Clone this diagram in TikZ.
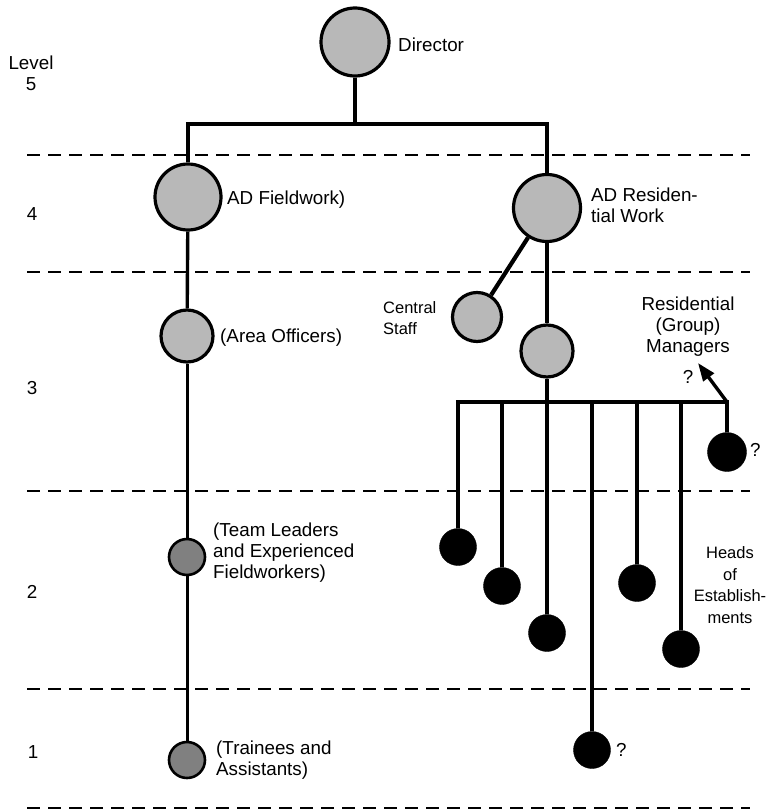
\documentclass[tikz,border=0pt]{standalone}
\usepackage{fontspec}
\setmainfont{Liberation Sans}
\usetikzlibrary{arrows.meta}
\begin{document}
\begin{tikzpicture}[x=1pt,y=-1pt,
  lbl/.style={font=\fontsize{18.8}{21}\selectfont, inner sep=0pt, align=left},
  lvl/.style={font=\fontsize{18.8}{21}\selectfont, inner sep=0pt, align=center},
  small/.style={font=\fontsize{16.5}{21.5}\selectfont},
  graynode/.style={circle, draw=black, line width=3.2pt, fill=black!28, inner sep=0pt},
  darknode/.style={circle, draw=black, line width=2.6pt, fill=black!50, inner sep=0pt},
  blacknode/.style={circle, fill=black, draw=black, inner sep=0pt, minimum size=37pt},
  trunk/.style={line width=4.2pt},
  twig/.style={line width=3pt},
  levelline/.style={line width=2.2pt, dash pattern=on 13pt off 8pt}]
\useasboundingbox (0,0) rectangle (768,811);

% level separators
\foreach \yy in {155,272,491,689,808}
  \draw[levelline] (27,\yy) -- (750,\yy);

% level numbers
\node[lvl] (lv5) at (31,73) {Level\\5};
\node[lvl] (lv4) at (32,214) {4};
\node[lvl] (lv3) at (32,388) {3};
\node[lvl] (lv2) at (32,592) {2};
\node[lvl] (lv1) at (33,752) {1};

% top of the hierarchy
\node[graynode, minimum size=68pt] (dir) at (355,42) {};
\node[lbl, anchor=west] (dirL) at (398,45) {Director};

\coordinate (barL) at (188,124);
\coordinate (barM) at (355,124);
\coordinate (barR) at (547,124);

\node[graynode, minimum size=66pt] (adf) at (188,197) {};
\node[lbl, anchor=west] (adfL) at (227,200) {AD Fieldwork)};
\node[graynode, minimum size=67pt] (adr) at (547,208) {};
\node[lbl, anchor=west] (adrL) at (591,205) {AD Residen-\\tial Work};

\draw[trunk] (dir) -- (barM);
\draw[trunk] ([xshift=-2.1pt]barL) -- ([xshift=2.1pt]barR);
\draw[trunk] (barL) -- (adf);
\draw[trunk] (barR) -- (adr);

% fieldwork branch
\node[graynode, minimum size=52pt] (ao) at (187,336) {};
\node[lbl, anchor=west] (aoL) at (220,338) {(Area Officers)};
\node[darknode, minimum size=36pt] (tl) at (187,557) {};
\node[lbl, anchor=west] (tlL) at (213,553) {(Team Leaders\\and Experienced\\Fieldworkers)};
\node[darknode, minimum size=36pt] (tr) at (187,760) {};
\node[lbl, anchor=west] (trL) at (216,760) {(Trainees and\\Assistants)};

\draw[twig, line width=3.4pt] (adf) -- (ao);
\draw[twig] (ao) -- (tl);
\draw[twig] (tl) -- (tr);

% residential branch
\node[graynode, minimum size=49pt] (cs) at (477,317) {};
\node[lbl, small, anchor=west] (csL) at (383,318) {Central\\Staff};
\node[graynode, minimum size=52pt] (rm) at (547,351) {};
\node[lvl] (rmL) at (688,327) {Residential\\(Group)\\Managers};
\node[lvl] (rmQ) at (688,377) {?};

\draw[trunk] (adr) -- (cs);
\draw[trunk] (adr) -- (rm);

\coordinate (rbL) at (458,402);
\coordinate (rbR) at (727,402);
\coordinate (tip) at (698,363);
\draw[trunk] ([xshift=-2.1pt]rbL) -- ([xshift=2.1pt]rbR);

% heads of establishments
\node[blacknode] (h1) at (458,547) {};
\node[blacknode] (h2) at (502,586) {};
\node[blacknode] (h3) at (547,633) {};
\node[blacknode] (h4) at (637,583) {};
\node[blacknode] (h5) at (681,649) {};
\node[blacknode] (q1) at (592,750) {};
\node[lbl, anchor=west] (q1L) at (616,750) {?};
\node[blacknode, minimum size=39pt] (q2) at (727,452) {};
\node[lbl, anchor=west] (q2L) at (750,450) {?};
\node[lvl, small] (hL) at (730,585) {Heads\\of\\Establish-\\ments};

\draw[trunk] (h1) -- (h1 |- rbL);
\draw[trunk] (h2) -- (h2 |- rbL);
\draw[trunk] (rm) -- (h3);
\draw[trunk] (h4) -- (h4 |- rbL);
\draw[trunk] (h5) -- (h5 |- rbL);
\draw[trunk] (q1) -- (q1 |- rbL);
\draw[trunk] (q2) -- (rbR);
\draw[line width=3.4pt, -{Triangle[length=18pt,width=13pt]}] (rbR) -- (tip);
\end{tikzpicture}
\end{document}
